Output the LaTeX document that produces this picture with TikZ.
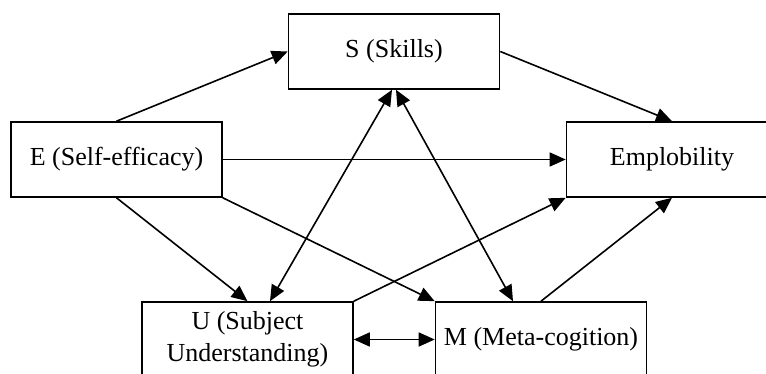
\documentclass[tikz,border=0pt]{standalone}
\usepackage{fontspec}
\setmainfont{Liberation Serif}
\usetikzlibrary{arrows.meta}

\tikzset{
  var/.style={draw, line width=1.6pt, minimum width=211pt, minimum height=75pt, inner sep=0pt, align=center,
    font=\fontsize{26}{32}\selectfont},
  path/.style={line width=1.6pt, -{Triangle[length=16pt,width=14pt]}},
  twoway/.style={line width=1.6pt, {Triangle[length=16pt,width=14pt]}-{Triangle[length=16pt,width=14pt]}}
}

\begin{document}
\begin{tikzpicture}[x=1pt,y=-1pt]
\useasboundingbox (0,0) rectangle (766,374);
\clip (0,0) rectangle (766,374);
\node[var] (s) at (394,51.5) {S (Skills)};
\node[var] (e) at (116.5,159.5) {E (Self-efficacy)};
\node[var] (emp) at (672,159.5) {Emplobility};
\node[var] (u) at (247.5,339.5) {U (Subject\\Understanding)};
\node[var] (m) at (541,339.5) {M (Meta-cogition)};
\draw [path] (e.north) -- (s.west);
\draw [path] (s.east) -- (emp.north);
\draw [path] (e.east) -- (emp.west);
\draw [path] (e.south) -- (u.north);
\draw [path] (e.south east) -- (m.north west);
\draw [path] (u.north east) -- (emp.south west);
\draw [path] (m.north) -- (emp.south);
\draw [twoway] ([xshift=-2pt]s.south) -- ([xshift=22.5pt]u.north);
\draw [twoway] ([xshift=2pt]s.south) -- ([xshift=-28pt]m.north);
\draw [twoway] (u.east) -- (m.west);
\end{tikzpicture}
\end{document}
